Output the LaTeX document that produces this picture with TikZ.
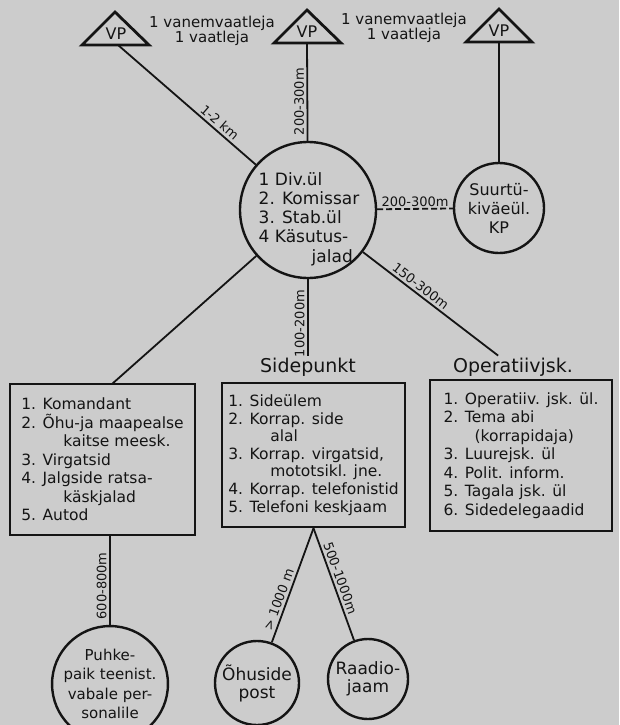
\documentclass[tikz,border=0pt]{standalone}
\usepackage{fontspec}
\setmainfont{DejaVu Sans}
\usetikzlibrary{calc}
\definecolor{paper}{RGB}{204,204,204}
\definecolor{inkc}{RGB}{20,20,20}
\begin{document}
\begin{tikzpicture}[x=1pt,y=-1pt,
  wire/.style={draw=inkc, line width=1.8pt},
  tri/.style={draw=inkc, line width=2.8pt, line join=miter},
  frame/.style={draw=inkc, line width=2.4pt, rectangle, align=left, inner sep=0pt, font=\fontsize{15.5}{18.5}\selectfont, text=inkc},
  ring/.style={draw=inkc, line width=2.4pt, circle, align=center, inner sep=0pt, text=inkc},
  dist/.style={font=\fontsize{13}{15}\selectfont, inner sep=2.5pt, text=inkc},
  head/.style={font=\fontsize{19}{22}\selectfont, inner sep=2pt, text=inkc},
  toptxt/.style={font=\fontsize{15}{14.5}\selectfont, align=center, text=inkc},
  vptxt/.style={font=\fontsize{16}{18}\selectfont, inner sep=0pt, text=inkc},
  circtxt/.style={font=\fontsize{17}{19.2}\selectfont, align=left, text=inkc}]
\useasboundingbox (0,0) rectangle (619,725);
\fill[paper] (0,0) rectangle (619,725);

% observation posts
\node[vptxt] (vp1) at (116,34) {VP};
\draw[tri] (115,12) -- (149,45) -- (82,45) -- cycle;
\coordinate (vp1b) at (118,45);
\node[vptxt] (vp2) at (307,32) {VP};
\draw[tri] (307,10) -- (341,43) -- (274,43) -- cycle;
\coordinate (vp2b) at (307,43);
\node[vptxt] (vp3) at (499,31) {VP};
\draw[tri] (499,9) -- (532,42) -- (466,42) -- cycle;
\coordinate (vp3b) at (499,42);

\node[toptxt] (t1) at (212,31) {1 vanemvaatleja\\1 vaatleja};
\node[toptxt] (t2) at (404,28) {1 vanemvaatleja\\1 vaatleja};

% circles
\node[ring, minimum size=136] (div) at (308,210) {};
\node[circtxt] (divtxt) at (309,219) {1 Div.ül\\2. Komissar\\3. Stab.ül\\4 Käsutus-\\\hspace*{53pt}jalad};
\node[ring, minimum size=90, font=\fontsize{16}{19}\selectfont] (suur) at (499,208) {Suurtü-\\kiväeül.\\KP};

% headings
\node[head] (sp) at (308,367) {Sidepunkt};
\node[head] (op) at (513,367) {Operatiivjsk.};

% boxes
\node[frame, minimum width=185, minimum height=151] (box1) at (102.5,459.5) {1. Komandant\\2. Õhu-ja maapealse\\\hspace*{42pt}kaitse meesk.\\3. Virgatsid\\4. Jalgside ratsa-\\\hspace*{42pt}käskjalad\\5. Autod};
\node[frame, minimum width=183, minimum height=144, font=\fontsize{15.5}{17.6}\selectfont] (box2) at (313.5,455) {1. Sideülem\\2. Korrap. side\\\hspace*{42pt}alal\\3. Korrap. virgatsid,\\\hspace*{42pt}mototsikl. jne.\\4. Korrap. telefonistid\\5. Telefoni keskjaam};
\node[frame, minimum width=182, minimum height=151] (box3) at (521,455.5) {1. Operatiiv. jsk. ül.\\2. Tema abi\\\hspace*{31pt}(korrapidaja)\\3. Luurejsk. ül\\4. Polit. inform.\\5. Tagala jsk. ül\\6. Sidedelegaadid};
\coordinate (b1t) at (112,384);

% bottom circles
\node[ring, minimum size=114, font=\fontsize{15}{19.5}\selectfont] (puhke) at (110,684) {Puhke-\\paik teenist.\\vabale per-\\sonalile};
\node[ring, minimum size=84, font=\fontsize{17}{18}\selectfont] (ohu) at (257,683) {Õhuside\\post};
\node[ring, minimum size=80, font=\fontsize{17}{18}\selectfont] (raadio) at (368,679) {Raadio-\\jaam};

% connectors
\draw[wire] (vp1b) -- (div) node[dist, sloped, above, pos=0.7] {1-2 km};
\draw[wire] (vp2b) -- (div) node[dist, rotate=90, anchor=south, pos=0.6] {200-300m};
\draw[wire] (vp3b) -- (suur);
\draw[wire, dash pattern=on 6pt off 3pt] (div) -- (suur) node[dist, above, pos=0.5, inner sep=1.5pt] {200-300m};
\draw[wire] (div) -- (op) node[dist, sloped, above, pos=0.39] {150-300m};
\draw[wire] (div) -- (sp) node[dist, rotate=90, anchor=south, pos=0.58] {100-200m};
\draw[wire] (div) -- (b1t);
\draw[wire] (puhke |- box1.south) -- (puhke) node[dist, rotate=90, anchor=south, pos=0.56] {600-800m};
\draw[wire] (box2.south) -- (ohu) node[dist, sloped, above, pos=0.65] {> 1000 m};
\draw[wire] (box2.south) -- (raadio) node[dist, sloped, above, pos=0.47] {500-1000m};
\end{tikzpicture}
\end{document}
